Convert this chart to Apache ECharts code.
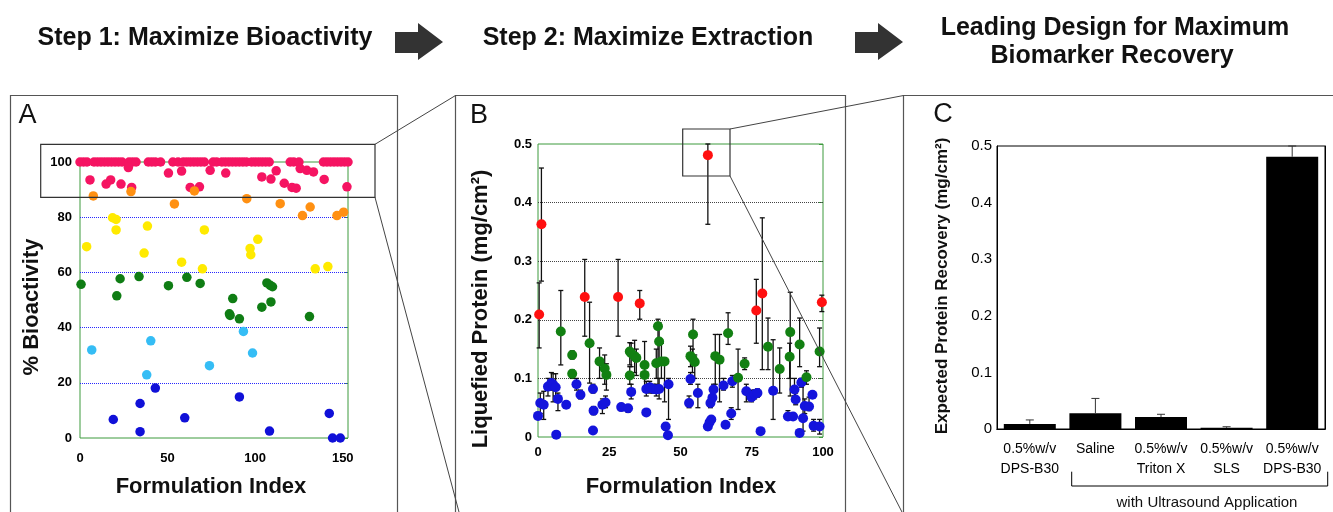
<!DOCTYPE html>
<html>
<head>
<meta charset="utf-8">
<script src="https://cdn.jsdelivr.net/npm/echarts@6.0.0/dist/echarts.min.js"></script>
<style>
  html, body { margin: 0; padding: 0; background: #fff; }
  #chart { width: 1333px; height: 512px; }
</style>
</head>
<body>
<div id="chart"></div>
<script>
// ---- panel A: % bioactivity per formulation index ----
const pinkTopIdx = [0, 2, 4, 8, 10, 12, 14, 16, 18, 20, 22, 24, 28, 30, 32, 39, 41, 43, 46, 53, 56,
  59, 61, 63, 65, 67, 69, 71, 76, 78, 81, 83, 85, 87, 89, 91, 93, 95, 98, 100, 102, 104, 106, 108,
  120, 122, 125, 139, 141, 143, 145, 147, 149, 151, 153];
const pinkTopVal = 100;
const pinkPts = [[27.6, 98], [5.7, 93.5], [14.9, 92], [17.5, 93.5], [23.4, 92], [29.5, 90.8], [50.5, 96],
  [58, 96.7], [62.9, 90.8], [68.2, 91], [74.3, 97], [83.2, 96], [103.8, 94.6], [109, 93.8], [112, 96.8],
  [116.6, 92.3], [121, 90.8], [123.4, 90.5], [125.7, 97.6], [129.5, 97], [133.3, 96.4], [139.4, 93.7], [152.4, 91]];
const orangePts = [[7.6, 87.7], [29.1, 89.3], [53.9, 84.8], [65.3, 89.5], [95.2, 86.7], [114.3, 84.9],
  [127, 80.6], [131.4, 83.7], [146.7, 80.6], [150.5, 81.8]];
const yellowPts = [[3.8, 69.3], [18.6, 79.8], [20.6, 79.2], [20.6, 75.4], [36.6, 67], [38.5, 76.8], [58, 63.7],
  [69.9, 61.3], [71, 75.4], [97.1, 68.7], [97.5, 66.4], [101.5, 72], [134.3, 61.3], [141.5, 62.1]];
const greenPts = [[0.6, 55.7], [22.9, 57.7], [21, 51.5], [33.7, 58.5], [50.5, 55.2], [61, 58.2], [68.6, 56],
  [106.7, 56.2], [108.6, 55.3], [109.9, 54.8], [85.7, 44.4], [85.3, 45], [87.2, 50.5], [91, 43.2],
  [103.8, 47.4], [109, 49.3], [131, 44]];
const skyPts = [[6.7, 31.9], [38.1, 22.9], [40.4, 35.2], [73.9, 26.2], [93.3, 38.6], [98.5, 30.8]];
const bluePts = [[19, 6.7], [34.3, 12.5], [34.3, 2.3], [43, 18.1], [59.8, 7.3], [91, 14.9], [108.2, 2.5],
  [142.3, 8.9], [144.2, 0], [148.6, 0]];
const aGrid = [20, 40, 60, 80];

// ---- panel B: liquefied protein [index, value, errLow, errHigh] ----
const redB = [[1.2, 0.363, 0.266, 0.459], [0.4, 0.209, 0.152, 0.263], [16.4, 0.239, 0.172, 0.303],
  [28.1, 0.239, 0.172, 0.303], [35.7, 0.228, 0.201, 0.25], [59.6, 0.481, 0.363, 0.5],
  [76.6, 0.216, 0.16, 0.269], [78.7, 0.245, 0.115, 0.374], [99.6, 0.23, 0.214, 0.242]];
const greenB = [[8, 0.18, 0.123, 0.25], [12, 0.14, 0.133, 0.147], [12, 0.108, 0.1, 0.115],
  [18.1, 0.16, 0.092, 0.23], [21.6, 0.129, 0.1, 0.152], [23.4, 0.117, 0.09, 0.14], [24, 0.106, 0.08, 0.125],
  [32.2, 0.146, 0.123, 0.161], [32.7, 0.143, 0.12, 0.16], [33.9, 0.138, 0.11, 0.165], [34.5, 0.135, 0.105, 0.15],
  [32.2, 0.105, 0.09, 0.12], [37.4, 0.123, 0.1, 0.163], [37.4, 0.106, 0.085, 0.12], [42.1, 0.189, 0.084, 0.201],
  [42.5, 0.163, 0.13, 0.195], [41.5, 0.126, 0.1, 0.15], [43.3, 0.129, 0.1, 0.16], [44.4, 0.129, 0.06, 0.135],
  [54.4, 0.175, 0.123, 0.201], [53.5, 0.138, 0.12, 0.155], [54.2, 0.134, 0.11, 0.15], [55, 0.128, 0.1, 0.14],
  [62.2, 0.138, 0.09, 0.175], [63.7, 0.132, 0.06, 0.175], [66.7, 0.177, 0.158, 0.212], [70.2, 0.101, 0.047, 0.15],
  [72.5, 0.125, 0.115, 0.135], [80.7, 0.154, 0.115, 0.203], [84.8, 0.116, 0.075, 0.152], [88.5, 0.179, 0.07, 0.247],
  [88.3, 0.137, 0.1, 0.16], [91.8, 0.158, 0.12, 0.203], [94.2, 0.102, 0.09, 0.113], [98.8, 0.146, 0.12, 0.186]];
const blueB = [[0, 0.036, 0.03, 0.042], [0.8, 0.058, 0.04, 0.075], [2, 0.055, 0.03, 0.078], [3.5, 0.086, 0.07, 0.1],
  [4.7, 0.092, 0.08, 0.11], [5.3, 0.089, 0.06, 0.108], [6.2, 0.085, 0.07, 0.108], [6.4, 0.004, 0.004, 0.004],
  [7, 0.065, 0.045, 0.075], [9.9, 0.055, 0.05, 0.06], [13.5, 0.09, 0.08, 0.1], [14.9, 0.072, 0.065, 0.08],
  [19.3, 0.082, 0.075, 0.09], [19.5, 0.045, 0.038, 0.052], [19.3, 0.011, 0.011, 0.011], [22.6, 0.055, 0.04, 0.065],
  [23.7, 0.059, 0.05, 0.07], [29.2, 0.051, 0.045, 0.057], [31.6, 0.049, 0.042, 0.055], [32.7, 0.077, 0.065, 0.09],
  [38, 0.042, 0.038, 0.046], [38, 0.082, 0.07, 0.095], [39.2, 0.085, 0.075, 0.095], [40.4, 0.082, 0.075, 0.09],
  [41.5, 0.081, 0.07, 0.09], [42.5, 0.082, 0.065, 0.1], [44.8, 0.018, 0.012, 0.024], [45.6, 0.003, 0.003, 0.003],
  [45.8, 0.09, 0.03, 0.1], [53, 0.058, 0.05, 0.07], [53.5, 0.099, 0.09, 0.11], [56.1, 0.075, 0.05, 0.09],
  [59.6, 0.018, 0.012, 0.025], [60.2, 0.025, 0.02, 0.03], [60.8, 0.03, 0.025, 0.035], [60.5, 0.058, 0.05, 0.065],
  [61.2, 0.067, 0.06, 0.075], [61.6, 0.081, 0.07, 0.09], [65.1, 0.088, 0.08, 0.1], [65.8, 0.021, 0.02, 0.022],
  [67.8, 0.04, 0.03, 0.05], [68.2, 0.095, 0.085, 0.105], [73.1, 0.078, 0.06, 0.09], [74.9, 0.068, 0.06, 0.08],
  [76, 0.073, 0.065, 0.08], [77, 0.075, 0.068, 0.082], [78.1, 0.01, 0.01, 0.01], [82.5, 0.079, 0.03, 0.166],
  [87.7, 0.035, 0.03, 0.045], [89.5, 0.035, 0.03, 0.04], [90, 0.081, 0.07, 0.1], [90.4, 0.064, 0.055, 0.075],
  [91.8, 0.007, 0.007, 0.007], [92.4, 0.093, 0.085, 0.1], [93, 0.032, 0.01, 0.09], [93.6, 0.053, 0.04, 0.065],
  [95.1, 0.052, 0.045, 0.068], [96.3, 0.072, 0.068, 0.076], [96.7, 0.019, 0.01, 0.03], [98.8, 0.018, 0.005, 0.03]];
const bGrid = [0.1, 0.2, 0.3, 0.4];

// ---- panel C: expected protein recovery ----
const cLabels = ['0.5%w/v\nDPS-B30', 'Saline', '0.5%w/v\nTriton X', '0.5%w/v\nSLS', '0.5%w/v\nDPS-B30'];
const cValues = [0.009, 0.028, 0.021, 0.002, 0.481];
const cErrTop = [0.016, 0.054, 0.026, 0.004, 0.5];

const FONT = '"Liberation Sans", Arial, sans-serif';
const chart = echarts.init(document.getElementById('chart'));

function errBars(capW) {
  return function (params, api) {
    const x = api.value(0);
    const lo = api.coord([x, api.value(2)]);
    const hi = api.coord([x, api.value(3)]);
    const st = { stroke: '#111', lineWidth: 1.3 };
    return {
      type: 'group',
      children: [
        { type: 'line', shape: { x1: lo[0], y1: lo[1], x2: hi[0], y2: hi[1] }, style: st },
        { type: 'line', shape: { x1: lo[0] - capW, y1: lo[1], x2: lo[0] + capW, y2: lo[1] }, style: st },
        { type: 'line', shape: { x1: hi[0] - capW, y1: hi[1], x2: hi[0] + capW, y2: hi[1] }, style: st }
      ]
    };
  };
}

function dotsA(data, color) {
  return { type: 'scatter', xAxisIndex: 0, yAxisIndex: 0, data: data, symbolSize: 9.5,
    itemStyle: { color: color, opacity: 1 }, z: 3, silent: true };
}
function dotsB(data, color) {
  return { type: 'scatter', xAxisIndex: 1, yAxisIndex: 2, data: data, symbolSize: 10,
    itemStyle: { color: color, opacity: 1 }, z: 3, silent: true };
}
function errB(data) {
  return { type: 'custom', xAxisIndex: 1, yAxisIndex: 2, data: data, renderItem: errBars(2.5), z: 2, silent: true };
}

const tickLbl = { color: '#000', fontWeight: 'bold', fontSize: 13, fontFamily: FONT };
const hidden = { axisLine: { show: false }, axisTick: { show: false }, splitLine: { show: false } };

function text(x, y, str, font, extra) {
  return Object.assign({ type: 'text', x: x, y: y, z: 50,
    style: { text: str, font: font, fill: '#111', align: 'center', verticalAlign: 'middle' } }, extra || {});
}
function line(x1, y1, x2, y2) {
  return { type: 'line', z: 60, shape: { x1: x1, y1: y1, x2: x2, y2: y2 }, style: { stroke: '#444', lineWidth: 1 } };
}
function box(x, y, w, h, color) {
  return { type: 'rect', z: 60, shape: { x: x, y: y, width: w, height: h },
    style: { fill: 'none', stroke: color || '#333', lineWidth: 1.2 } };
}
function arrow(x0) {
  return { type: 'polygon', z: 50, style: { fill: '#333' },
    shape: { points: [[x0, 32], [x0 + 23, 32], [x0 + 23, 23], [x0 + 48, 42], [x0 + 23, 60], [x0 + 23, 53], [x0, 53]] } };
}

const option = {
  backgroundColor: '#fff',
  animation: false,
  grid: [
    { left: 80, top: 162, width: 268, height: 276, show: true, borderColor: '#3d9a3d', borderWidth: 1 },
    { left: 538, top: 144, width: 285, height: 293, show: true, borderColor: '#3d9a3d', borderWidth: 1 },
    { left: 997, top: 146, width: 328, height: 283, show: true, borderColor: '#000', borderWidth: 1 }
  ],
  xAxis: [
    Object.assign({ gridIndex: 0, type: 'value', min: 0, max: 153, interval: 50,
      axisLabel: Object.assign({ margin: 14, formatter: v => (v % 50 === 0 ? v : '') }, tickLbl) }, hidden),
    Object.assign({ gridIndex: 1, type: 'value', min: 0, max: 100, interval: 25,
      axisLabel: Object.assign({ margin: 9 }, tickLbl) }, hidden),
    { gridIndex: 2, type: 'category', data: cLabels,
      axisLine: { lineStyle: { color: '#000' } },
      axisTick: { inside: true, length: 5, lineStyle: { color: '#000' } },
      axisLabel: { interval: 0, margin: 10, color: '#000', fontSize: 14, lineHeight: 20, fontFamily: FONT } },
    { gridIndex: 2, type: 'category', position: 'top', data: cLabels,
      axisLine: { lineStyle: { color: '#000' } },
      axisTick: { inside: true, length: 5, lineStyle: { color: '#000' } }, axisLabel: { show: false } }
  ],
  yAxis: [
    Object.assign({ gridIndex: 0, type: 'value', min: 0, max: 100, interval: 20,
      axisLabel: Object.assign({ margin: 8 }, tickLbl) }, hidden),
    { gridIndex: 0, type: 'value', position: 'right', min: 0, max: 100, interval: 20,
      axisLine: { show: false }, splitLine: { show: false }, axisLabel: { show: false },
      axisTick: { inside: true, length: 4, lineStyle: { color: '#3d9a3d' } } },
    Object.assign({ gridIndex: 1, type: 'value', min: 0, max: 0.5, interval: 0.1,
      axisLabel: Object.assign({ margin: 6 }, tickLbl) }, hidden),
    { gridIndex: 1, type: 'value', position: 'right', min: 0, max: 0.5, interval: 0.1,
      axisLine: { show: false }, splitLine: { show: false }, axisLabel: { show: false },
      axisTick: { inside: true, length: 4, lineStyle: { color: '#3d9a3d' } } },
    { gridIndex: 2, type: 'value', min: 0, max: 0.5, interval: 0.1, splitLine: { show: false },
      axisLine: { show: true, lineStyle: { color: '#000' } }, axisTick: { show: false },
      axisLabel: { margin: 5, color: '#000', fontSize: 15, fontFamily: FONT } },
    { gridIndex: 2, type: 'value', position: 'right', min: 0, max: 0.5, interval: 0.1, splitLine: { show: false },
      axisLine: { show: true, lineStyle: { color: '#000' } }, axisLabel: { show: false },
      axisTick: { inside: true, length: 5, lineStyle: { color: '#000' } } }
  ],
  series: [
    // panel A
    Object.assign(dotsA(pinkTopIdx.map(i => [i, pinkTopVal]).concat(pinkPts), '#f51462'), {
      markLine: { silent: true, symbol: 'none', label: { show: false }, z: 1,
        lineStyle: { type: 'dotted', color: '#2828ff', width: 1 },
        data: aGrid.map(v => ({ yAxis: v })) }
    }),
    dotsA(orangePts, '#ff9012'),
    dotsA(yellowPts, '#ffea00'),
    dotsA(greenPts, '#0f7d14'),
    dotsA(skyPts, '#35bdf5'),
    dotsA(bluePts, '#1010d8'),
    // panel B
    Object.assign(errB(blueB), {
      markLine: { silent: true, symbol: 'none', label: { show: false }, z: 1,
        lineStyle: { type: 'dotted', color: '#444', width: 1 },
        data: bGrid.map(v => ({ yAxis: v })) }
    }),
    errB(greenB),
    errB(redB),
    dotsB(blueB, '#1414dc'),
    dotsB(greenB, '#128012'),
    dotsB(redB, '#ff1010'),
    // panel C
    { type: 'bar', xAxisIndex: 2, yAxisIndex: 4, data: cValues, barWidth: 52,
      itemStyle: { color: '#000' }, silent: true, z: 2 },
    { type: 'custom', xAxisIndex: 2, yAxisIndex: 4, silent: true, z: 3,
      data: cValues.map((v, i) => [i, v, v, cErrTop[i]]),
      renderItem: function (params, api) {
        const lo = api.coord([api.value(0), api.value(2)]);
        const hi = api.coord([api.value(0), api.value(3)]);
        const st = { stroke: '#333', lineWidth: 1 };
        return { type: 'group', children: [
          { type: 'line', shape: { x1: lo[0], y1: lo[1], x2: hi[0], y2: hi[1] }, style: st },
          { type: 'line', shape: { x1: hi[0] - 4, y1: hi[1], x2: hi[0] + 4, y2: hi[1] }, style: st }
        ] };
      } }
  ],
  graphic: [
    // headers
    text(205, 38, 'Step 1: Maximize Bioactivity', 'bold 25px ' + FONT),
    arrow(395),
    text(648, 38, 'Step 2: Maximize Extraction', 'bold 25px ' + FONT),
    arrow(855),
    text(1115, 28, 'Leading Design for Maximum', 'bold 25px ' + FONT),
    text(1112, 56, 'Biomarker Recovery', 'bold 25px ' + FONT),
    // panel frames
    box(10.5, 95.5, 387, 450, '#555'),
    box(455.5, 95.5, 390, 450, '#555'),
    box(903.5, 95.5, 460, 450, '#555'),
    // panel letters
    text(27.5, 116, 'A', '27px ' + FONT),
    text(479, 116, 'B', '27px ' + FONT),
    text(943, 115, 'C', '27px ' + FONT),
    // axis titles
    text(32, 307, '% Bioactivity', 'bold 22px ' + FONT, { rotation: Math.PI / 2 }),
    text(211, 487, 'Formulation Index', 'bold 22px ' + FONT),
    text(481, 309, 'Liquefied Protein (mg/cm²)', 'bold 22px ' + FONT, { rotation: Math.PI / 2 }),
    text(681, 487, 'Formulation Index', 'bold 22px ' + FONT),
    text(942, 286, 'Expected Protein Recovery (mg/cm²)', 'bold 17px ' + FONT, { rotation: Math.PI / 2 }),
    // zoom insets and connectors
    box(40.7, 144.3, 334.3, 53, '#333'),
    line(375, 144.3, 455.5, 95.5),
    line(375, 197.3, 459, 512),
    box(682.7, 129, 47.3, 47, '#333'),
    line(730, 129, 903.5, 95.5),
    line(730, 176, 903, 514),
    // ultrasound bracket
    { type: 'polyline', z: 50, shape: { points: [[1071.7, 471.7], [1071.7, 486], [1327.7, 486], [1327.7, 471.7]] },
      style: { stroke: '#000', lineWidth: 1, fill: 'none' } },
    text(1207, 503, 'with Ultrasound Application', '15px ' + FONT)
  ]
};

chart.setOption(option);
</script>
</body>
</html>
